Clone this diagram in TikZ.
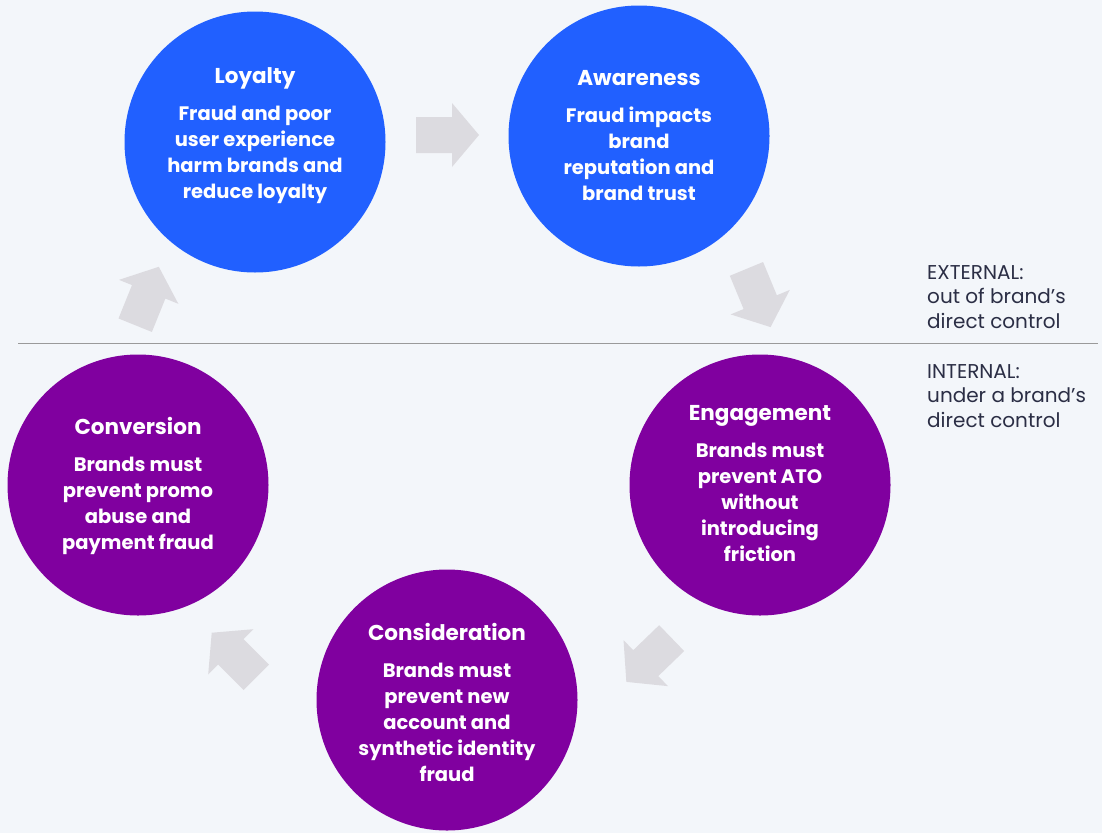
\documentclass[tikz,border=0pt]{standalone}
\usepackage{fontspec}
\setmainfont{Poppins}
\definecolor{bg}{HTML}{F3F6FA}
\definecolor{cblue}{HTML}{2160FF}
\definecolor{cpurple}{HTML}{80009F}
\definecolor{carrow}{HTML}{DCDBE0}
\definecolor{ctext}{HTML}{2B2E45}
\definecolor{cline}{HTML}{9A9A9A}
\tikzset{
  stage/.style={circle, minimum size=261pt, inner sep=0pt},
  bluestage/.style={stage, fill=cblue},
  purplestage/.style={stage, fill=cpurple},
  stagetext/.style={text=white, align=center, inner sep=0pt,
    font=\fontsize{19.5}{26}\selectfont\bfseries},
  flowfill/.style={fill=carrow},
  side/.style={anchor=base west, text=ctext, font=\fontsize{20}{24.5}\selectfont, inner sep=0pt}
}
\newcommand{\ttl}[1]{{\fontsize{21.5}{26}\selectfont #1}\\[11pt]}
\newcommand{\flowarrow}[3]{%
  \coordinate (#1) at (#2);
  \fill[flowfill, shift={(#1)}, rotate=#3]
    (-31.5,-18) -- (4.5,-18) -- (4.5,-32) -- (31.5,0) -- (4.5,32) -- (4.5,18) -- (-31.5,18) -- cycle;}
\begin{document}
\begin{tikzpicture}[x=1pt,y=-1pt]
\fill[bg] (0,0) rectangle (1102,833);
\useasboundingbox (0,0) rectangle (1102,833);
\draw[cline, line width=1pt] (18,343) -- (1098,343);
\node[bluestage] (loy) at (255,142) {};
\node[stagetext] (loyt) at (255,136) {\ttl{Loyalty}Fraud and poor\\user experience\\harm brands and\\reduce loyalty};
\node[bluestage] (awa) at (639,136) {};
\node[stagetext] (awat) at (639,136) {\ttl{Awareness}Fraud impacts\\brand\\reputation and\\brand trust};
\node[purplestage] (eng) at (760,485) {};
\node[stagetext] (engt) at (760,484) {\ttl{Engagement}Brands must\\prevent ATO\\without\\introducing\\friction};
\node[purplestage] (con) at (447,700) {};
\node[stagetext] (cont) at (447,702) {\ttl{Consideration}Brands must\\prevent new\\account and\\synthetic identity\\fraud};
\node[purplestage] (cnv) at (138,485) {};
\node[stagetext] (cnvt) at (138,486) {\ttl{Conversion}Brands must\\prevent promo\\abuse and\\payment fraud};
\flowarrow{a1}{447.5,135}{0}
\flowarrow{a2}{758.5,298}{-67.5}
\flowarrow{a3}{649,660}{-136}
\flowarrow{a4}{234,655}{135}
\flowarrow{a5}{147,296}{68}
\node[side] (ext1) at (927,279) {EXTERNAL:};
\node[side] (ext2) at (927,303.5) {out of brand’s};
\node[side] (ext3) at (927,328) {direct control};
\node[side] (int1) at (927,378) {INTERNAL:};
\node[side] (int2) at (927,402.5) {under a brand’s};
\node[side] (int3) at (927,427) {direct control};
\end{tikzpicture}
\end{document}
